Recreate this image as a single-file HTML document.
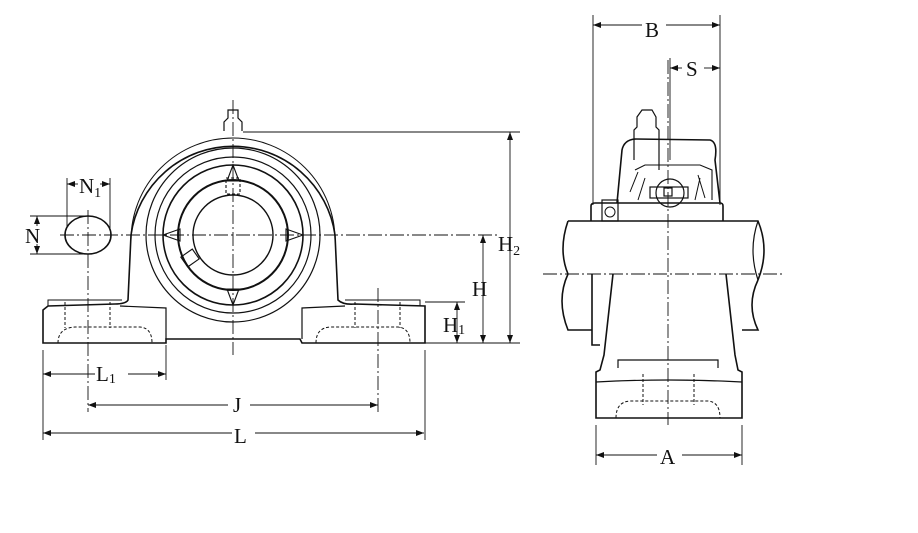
<!DOCTYPE html>
<html><head><meta charset="utf-8"><style>
html,body{margin:0;padding:0;background:#fff;}
svg{display:block;}
text{font-family:"Liberation Serif",serif;fill:#111;}
</style></head><body>
<svg width="918" height="533" viewBox="0 0 918 533" xmlns="http://www.w3.org/2000/svg">
<defs>
<marker id="a" markerWidth="8" markerHeight="6" refX="8" refY="3" orient="auto-start-reverse" markerUnits="userSpaceOnUse"><path d="M0,0 L8,3 L0,6 Z" fill="#111"/></marker>
</defs>
<g fill="none" stroke="#111" stroke-width="1.6">
<path d="M128,300 L131,235 A103,103 0 0 1 335,235 L338,300 Q343,305 355,304 L425,306 L425,343 L302,343 L300,339 L166,339 L166,343 L43,343 L43,310 L48,306 L115,304 Q126,304 128,300 Z"/>
<path d="M131,240 A102,102 0 0 1 335,240" stroke-width="1"/>
<path d="M48,306 L48,300 L122,300" stroke-width="1"/>
<path d="M345,300 L420,300 L420,306" stroke-width="1"/>
<path d="M166,339 L166,308 L120,306" stroke-width="1.2"/>
<path d="M302,339 L302,308 L345,306" stroke-width="1.2"/>
<circle cx="233" cy="235" r="87" stroke-width="1.2"/>
<circle cx="233" cy="235" r="78" stroke-width="1.2"/>
<circle cx="233" cy="235" r="70" stroke-width="1.6"/>
<circle cx="233" cy="235" r="55" stroke-width="2"/>
<circle cx="233" cy="235" r="40" stroke-width="1.4"/>
<path d="M163,235 L180,229 L180,241 Z M303,235 L286,229 L286,241 Z M233,165 L227,181 L239,181 Z M233,305 L227,289 L239,289 Z" stroke-width="1.1"/>
<rect x="226" y="178" width="14" height="16" stroke-width="1.1" stroke-dasharray="3,2"/>
<rect x="183" y="252" width="14" height="12" transform="rotate(-35 190 258)" stroke-width="1.1"/>
<path d="M224,131 L224,122 L228,118 L228,110 L238,110 L238,118 L242,122 L242,131" stroke-width="1.2"/>
<ellipse cx="88" cy="235" rx="23" ry="19"/>
<g stroke-width="1" stroke-dasharray="3,2">
<path d="M65,302 L65,328 M110,302 L110,328 M58,343 Q58,328 75,327 L140,327 Q152,328 152,343"/>
<path d="M355,302 L355,328 M400,302 L400,328 M316,343 Q316,328 330,327 L398,327 Q410,328 410,343"/>
</g>
</g>
<g stroke="#111" stroke-width="0.9" fill="none" stroke-dasharray="14,3,2,3">
<path d="M60,235 L500,235"/>
<path d="M233,100 L233,355"/>
<path d="M88,210 L88,412"/>
<path d="M378,288 L378,412"/>
<path d="M668,60 L668,425"/>
<path d="M543,274 L782,274"/>
</g>
<g stroke="#111" stroke-width="0.9" fill="none">
<path d="M243,132 L520,132 M425,343 L520,343 M425,302 L465,302"/>
<path d="M43,350 L43,440 M166,345 L166,380 M425,350 L425,440"/>
<path d="M67,178 L67,228 M110,178 L110,228 M30,216 L88,216 M30,254 L88,254"/>
<path d="M510,132 L510,343" marker-start="url(#a)" marker-end="url(#a)"/>
<path d="M483,235 L483,343" marker-start="url(#a)" marker-end="url(#a)"/>
<path d="M457,302 L457,343" marker-start="url(#a)" marker-end="url(#a)"/>
<path d="M43,374 L95,374" marker-start="url(#a)"/>
<path d="M166,374 L128,374" marker-start="url(#a)"/>
<path d="M88,405 L228,405" marker-start="url(#a)"/>
<path d="M378,405 L250,405" marker-start="url(#a)"/>
<path d="M43,433 L232,433" marker-start="url(#a)"/>
<path d="M424,433 L255,433" marker-start="url(#a)"/>
<path d="M67,184 L78,184" marker-start="url(#a)"/>
<path d="M110,184 L100,184" marker-start="url(#a)"/>
<path d="M37,216 L37,226" marker-start="url(#a)"/>
<path d="M37,254 L37,244" marker-start="url(#a)"/>
</g>
<text x="79" y="193" font-size="21">N<tspan font-size="14" dy="4">1</tspan></text>
<text x="25" y="243" font-size="21">N</text>
<text x="498" y="251" font-size="21">H<tspan font-size="14" dy="4">2</tspan></text>
<text x="472" y="296" font-size="21">H</text>
<text x="443" y="332" font-size="21">H<tspan font-size="14" dy="2">1</tspan></text>
<text x="96" y="381" font-size="21">L<tspan font-size="14" dy="2">1</tspan></text>
<text x="233" y="412" font-size="21">J</text>
<text x="234" y="443" font-size="21">L</text>
<g fill="none" stroke="#111" stroke-width="1.6">
<path d="M568,221 L758,221 Q770,250 758,280 M758,280 Q746,305 758,330 L742,330 M568,221 Q558,250 568,274 Q556,300 568,330 L592,330"/>
<path d="M758,221 Q748,250 758,280" stroke-width="1.2"/>
<path d="M592,274 L592,345 L600,345 M613,274 L604,355 L600,370 L596,372 L596,418 L742,418 L742,372 L738,370 L735,355 L726,274"/>
<path d="M596,382 Q668,378 742,382" stroke-width="1.2"/>
<path d="M618,368 L618,360 L718,360 L718,368" stroke-width="1.2"/>
<path d="M591,221 L591,206 Q591,203 595,203 L720,203 Q723,203 723,206 L723,221"/>
<path d="M617,203 L622,150 Q624,140 635,139 L710,140 Q718,142 715,160 L720,203"/>
<path d="M635,170 L645,165 L700,165 L712,170 L712,200" stroke-width="1.1"/>
<circle cx="670" cy="193" r="14" stroke-width="1.2"/>
<rect x="650" y="187" width="38" height="11" stroke-width="1.2"/>
<rect x="664" y="188" width="8" height="8" stroke-width="1.2"/>
<rect x="602" y="200" width="16" height="21" stroke-width="1.2"/>
<circle cx="610" cy="212" r="5" stroke-width="1"/>
<path d="M634,160 L634,130 L637,127 L637,117 L642,110 L652,110 L656,117 L656,127 L659,130 L659,170" stroke-width="1.2"/>
<path d="M630,192 L638,172 M638,200 L645,178 M695,200 L700,178 M705,198 L698,175" stroke-width="1"/>
<g stroke-width="1" stroke-dasharray="3,2">
<path d="M643,374 L643,405 M694,374 L694,405 M616,418 Q616,402 630,401 L708,401 Q720,402 720,418"/>
</g>
</g>
<g stroke="#111" stroke-width="0.9" fill="none">
<path d="M593,15 L593,205 M720,15 L720,205 M670,58 L670,160"/>
<path d="M596,425 L596,465 M742,425 L742,465"/>
<path d="M593,25 L642,25" marker-start="url(#a)"/>
<path d="M720,25 L666,25" marker-start="url(#a)"/>
<path d="M670,68 L682,68" marker-start="url(#a)"/>
<path d="M720,68 L704,68" marker-start="url(#a)"/>
<path d="M596,455 L657,455" marker-start="url(#a)"/>
<path d="M742,455 L682,455" marker-start="url(#a)"/>
</g>
<text x="645" y="37" font-size="21">B</text>
<text x="686" y="76" font-size="21">S</text>
<text x="660" y="464" font-size="21">A</text>
</svg>
</body></html>
